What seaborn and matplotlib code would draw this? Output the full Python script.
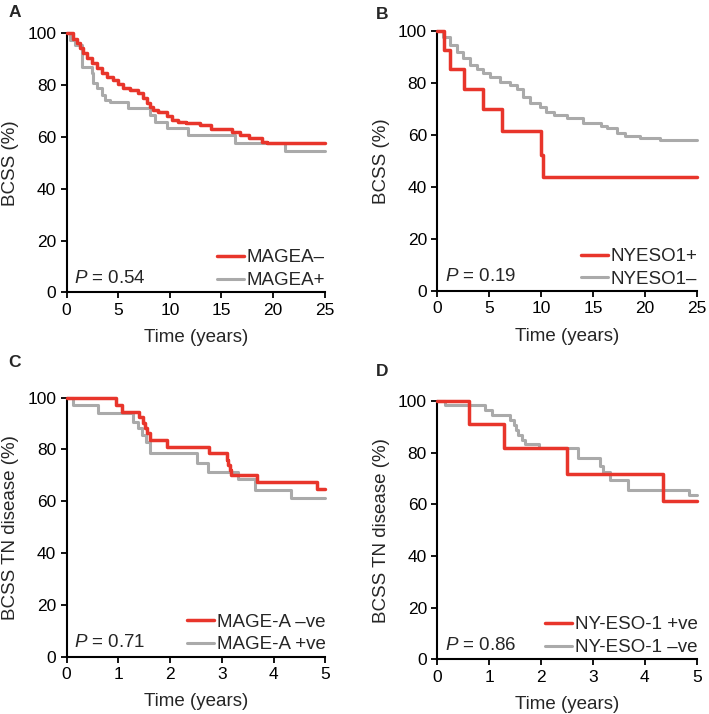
import numpy as np
import pandas as pd
import seaborn as sns
import matplotlib.pyplot as plt

# survival curves (time of each step, value after the step)
# panel A: BCSS by MAGEA status
a_neg_t = [0, 0.64, 0.97, 1.29, 1.6, 1.94, 2.42, 2.9, 3.39, 3.87, 4.51, 5.0, 5.48, 6.13, 6.93,
           7.42, 7.74, 8.06, 8.38, 8.87, 9.68, 10.2, 10.8, 11.6, 12.9, 14.0, 16.0, 16.8, 17.7,
           18.9, 19.4, 25]
a_neg_v = [100, 98.0, 96.1, 94.2, 92.3, 90.3, 88.4, 86.5, 84.6, 83.2, 82.0, 80.3, 79.0, 78.1,
           76.8, 74.9, 73.0, 71.7, 70.4, 69.5, 68.2, 66.5, 65.9, 65.3, 64.6, 62.9, 62.0, 60.7,
           59.5, 58.2, 57.8, 57.8]
a_pos_t = [0, 0.32, 0.8, 1.45, 2.42, 2.58, 2.9, 3.39, 3.7, 4.2, 5.97, 8.06, 8.55, 9.68, 11.8,
           16.3, 21.2, 25]
a_pos_v = [100, 97.4, 95.5, 87.1, 84.5, 80.7, 78.8, 76.2, 74.2, 73.4, 71.0, 68.5, 65.9, 63.3,
           60.7, 57.8, 54.6, 54.6]

# panel B: BCSS by NYESO1 status
b_pos_t = [0, 0.67, 1.22, 2.6, 4.43, 6.2, 10.0, 10.15, 25]
b_pos_v = [100, 92.9, 85.6, 77.9, 70.2, 61.4, 52.4, 43.9, 43.9]
b_neg_t = [0, 0.58, 1.22, 1.86, 2.5, 3.15, 3.8, 4.43, 5.08, 6.04, 7.0, 7.65, 8.29, 8.93, 9.9,
           10.5, 11.2, 12.5, 14.06, 15.8, 16.3, 17.3, 18.1, 19.5, 21.5, 25]
b_neg_v = [100, 97.8, 94.6, 92.1, 89.5, 86.9, 85.3, 83.7, 82.4, 80.5, 79.2, 77.9, 74.7, 72.2,
           70.9, 69.0, 67.7, 66.4, 64.5, 63.5, 62.6, 60.7, 59.7, 58.7, 58.2, 58.2]

# panel C: BCSS in TN disease by MAGE-A
c_neg_t = [0, 0.95, 1.06, 1.40, 1.47, 1.51, 1.56, 1.61, 1.94, 2.75, 3.09, 3.12, 3.15, 3.18,
           3.67, 4.83, 5]
c_neg_v = [100, 97.2, 94.6, 92.7, 90.1, 88.2, 86.3, 83.7, 81.1, 78.5, 75.9, 74.0, 72.1, 70.2,
           67.6, 64.6, 64.6]
c_pos_t = [0, 0.13, 0.61, 1.29, 1.38, 1.45, 1.53, 1.61, 2.51, 2.73, 3.31, 3.64, 4.34, 5]
c_pos_v = [100, 97.2, 94.0, 90.7, 88.2, 85.6, 83.0, 78.5, 74.7, 71.4, 68.5, 64.4, 61.2, 61.2]

# panel D: BCSS in TN disease by NY-ESO-1
d_pos_t = [0, 0.62, 1.29, 2.49, 4.34, 5]
d_pos_v = [100, 91.0, 81.9, 71.6, 61.3, 61.3]
d_neg_t = [0, 0.15, 0.92, 1.05, 1.40, 1.47, 1.52, 1.56, 1.63, 1.69, 1.95, 2.72, 3.14, 3.20,
           3.33, 3.68, 4.84, 5]
d_neg_v = [100, 98.5, 96.5, 94.6, 92.6, 90.7, 88.8, 86.8, 84.9, 83.2, 81.7, 78.0, 74.9, 72.6,
           69.4, 65.5, 63.6, 63.6]

RED = "#e8352b"
GREY = "#aaaaaa"
FS = 13.5      # labels / legend
TFS = 12.5     # tick labels

sns.set_style("ticks")
plt.rcParams["font.family"] = ["Liberation Sans", "DejaVu Sans"]
plt.rcParams["mathtext.fontset"] = "custom"
plt.rcParams["mathtext.it"] = "Liberation Sans:italic"


def km_frame(t1, v1, lab1, t2, v2, lab2):
    d1 = pd.DataFrame({"time": t1, "surv": v1, "group": lab1})
    d2 = pd.DataFrame({"time": t2, "surv": v2, "group": lab2})
    return pd.concat([d1, d2], ignore_index=True)


panels = [
    ("A", [0.094, 0.5906, 0.364, 0.3627], (0.021, 0.982),
     km_frame(a_neg_t, a_neg_v, "MAGEA\u2013", a_pos_t, a_pos_v, "MAGEA+"),
     25, "BCSS (%)", "0.54"),
    ("B", [0.6168, 0.5924, 0.366, 0.364], (0.539, 0.980),
     km_frame(b_pos_t, b_pos_v, "NYESO1+", b_neg_t, b_neg_v, "NYESO1\u2013"),
     25, "BCSS (%)", "0.19"),
    ("C", [0.094, 0.0803, 0.365, 0.3627], (0.021, 0.492),
     km_frame(c_neg_t, c_neg_v, "MAGE-A \u2013ve", c_pos_t, c_pos_v, "MAGE-A +ve"),
     5, "BCSS TN disease (%)", "0.71"),
    ("D", [0.6168, 0.0766, 0.366, 0.3618], (0.539, 0.479),
     km_frame(d_pos_t, d_pos_v, "NY-ESO-1 +ve", d_neg_t, d_neg_v, "NY-ESO-1 \u2013ve"),
     5, "BCSS TN disease (%)", "0.86"),
]

fig = plt.figure(figsize=(7.09, 7.14), dpi=100)

for letter, pos, lpos, df, xmax, ylab, pval in panels:
    ax = fig.add_axes(pos)
    groups = list(df["group"].unique())
    pal = {groups[0]: RED, groups[1]: GREY}
    # grey underneath, red on top
    for g, lw, z in [(groups[1], 2.2, 2), (groups[0], 2.5, 3)]:
        sub = df[df["group"] == g]
        sns.lineplot(data=sub, x="time", y="surv", color=pal[g], linewidth=lw,
                     drawstyle="steps-post", estimator=None, sort=False,
                     label=g, ax=ax, zorder=z, clip_on=False)
    ax.set_xlim(0, xmax)
    ax.set_ylim(0, 100)
    ax.set_yticks([0, 20, 40, 60, 80, 100])
    ax.set_xticks(np.linspace(0, xmax, 6))
    ax.set_xticklabels([str(int(x)) for x in np.linspace(0, xmax, 6)])
    ax.set_xlabel("Time (years)", fontsize=FS, labelpad=8)
    ax.set_ylabel(ylab, fontsize=FS, labelpad=6)
    sns.despine(ax=ax)
    for s in ["left", "bottom"]:
        ax.spines[s].set_linewidth(1.5)
        ax.spines[s].set_color("black")
    ax.tick_params(width=1.3, length=4, labelsize=TFS, colors="black", pad=3.5)

    handles, labels = ax.get_legend_handles_labels()
    order = [labels.index(groups[0]), labels.index(groups[1])]
    ax.legend([handles[i] for i in order], [labels[i] for i in order],
              loc="lower right", bbox_to_anchor=(1.01, 0.005), frameon=False,
              fontsize=FS, handlelength=1.45, handletextpad=0.15, labelspacing=0.3,
              borderaxespad=0.0, borderpad=0.1)
    ax.text(0.03, 0.055, r"$P$ = " + pval, transform=ax.transAxes,
            fontsize=FS, ha="left", va="center")
    fig.text(lpos[0], lpos[1], letter, fontsize=12.5, fontweight="bold",
             ha="center", va="center")

fig.savefig("out.png", dpi=100)
